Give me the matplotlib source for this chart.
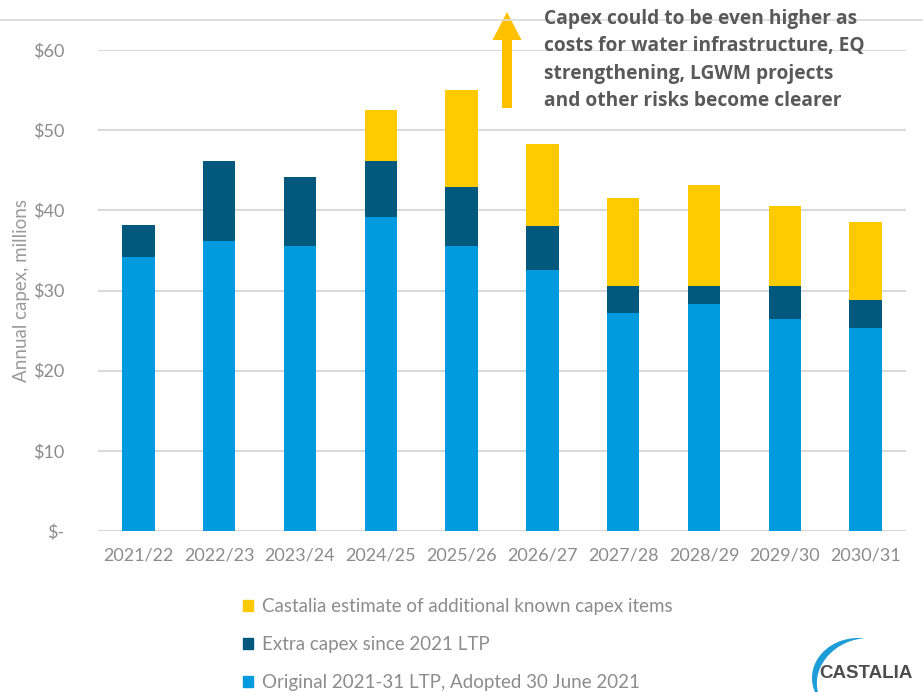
import numpy as np
import matplotlib.pyplot as plt
from matplotlib.patches import Patch, Polygon

years = ["2021/22", "2022/23", "2023/24", "2024/25", "2025/26",
         "2026/27", "2027/28", "2028/29", "2029/30", "2030/31"]
original_ltp = [34.2, 36.2, 35.5, 39.2, 35.6, 32.5, 27.2, 28.3, 26.5, 25.3]
extra_capex = [4.0, 10.0, 8.6, 7.0, 7.3, 5.5, 3.3, 2.3, 4.1, 3.5]
castalia_est = [0.0, 0.0, 0.0, 6.3, 12.1, 10.3, 11.1, 12.5, 9.9, 9.8]

legend_labels = ["Castalia estimate of additional known capex items",
                 "Extra capex since 2021 LTP",
                 "Original 2021-31 LTP, Adopted 30 June 2021"]
yticks = [0, 10, 20, 30, 40, 50, 60]
ytick_labels = ["$-", "$10", "$20", "$30", "$40", "$50", "$60"]
note = ("Capex could to be even higher as\n"
        "costs for water infrastructure, EQ\n"
        "strengthening, LGWM projects\n"
        "and other risks become clearer")

c_light = "#009ADE"
c_dark = "#00587C"
c_yellow = "#FFCA00"
c_text = "#8C8C8C"

plt.rcParams['font.family'] = ['Lato', 'DejaVu Sans']

fig = plt.figure(figsize=(9.23, 6.92), dpi=100)
W, H = 923, 692
ax = fig.add_axes([98 / W, 1 - 531 / H, (906 - 98) / W, (531 - 50) / H])

x = np.arange(len(years))
w = 0.4
orig = np.array(original_ltp)
extra = np.array(extra_capex)
est = np.array(castalia_est)
ax.bar(x, orig, w, color=c_light, zorder=3)
ax.bar(x, extra, w, bottom=orig, color=c_dark, zorder=3)
ax.bar(x, est, w, bottom=orig + extra, color=c_yellow, zorder=3)

ax.set_xlim(-0.5, len(years) - 0.5)
ax.set_ylim(0, 60)
ax.set_yticks(yticks)
ax.set_yticklabels(ytick_labels)
ax.set_xticks(x)
ax.set_xticklabels(years)
ax.tick_params(axis="both", length=0, labelsize=13, labelcolor=c_text)
ax.tick_params(axis="y", pad=24)
ax.tick_params(axis="x", pad=12)
ax.grid(axis="y", color="#D9D9D9", lw=1.5, zorder=0)
for s in ax.spines.values():
    s.set_visible(False)
ax.set_ylabel("Annual capex, millions", fontsize=13.5, color="#9A9A9A")
ax.yaxis.set_label_coords(-68 / 808, 0.5)

# thin rule across the top of the slide
fig.add_artist(plt.Line2D([0, 1], [1 - 20 / H, 1 - 20 / H],
                          transform=fig.transFigure, color="#D9D9D9", lw=1.2))


def px(pts):
    # pixel coords (origin top-left) -> figure fraction
    pts = np.asarray(pts, dtype=float)
    return np.c_[pts[:, 0] / W, 1 - pts[:, 1] / H]


# up arrow next to the note
ax_x, tip, neck, tail = 507, 12, 40, 108
arrow = [(ax_x, tip), (ax_x + 14.5, neck), (ax_x + 5, neck), (ax_x + 5, tail),
         (ax_x - 5, tail), (ax_x - 5, neck), (ax_x - 14.5, neck)]
fig.add_artist(Polygon(px(arrow), closed=True, transform=fig.transFigure,
                       color="#FFC000", lw=0))
fig.text(544 / W, 1 - 9 / H, note, fontsize=13.8, fontweight="bold",
         family=["Open Sans", "DejaVu Sans"], color="#595959",
         va="top", ha="left", linespacing=1.5)

handles = [Patch(color=c_yellow), Patch(color=c_dark), Patch(color=c_light)]
fig.legend(handles, legend_labels, loc="upper left",
           bbox_to_anchor=(243 / W, 1 - 598 / H), frameon=False,
           borderaxespad=0, borderpad=0,
           fontsize=13.5, labelcolor=c_text, handlelength=0.55,
           handleheight=0.55, handletextpad=0.45, labelspacing=1.13)

# logo: blue swoosh and wordmark
cx, cy, rx, ry = 858, 678, 46, 40
t = np.linspace(np.radians(82), np.radians(222), 80)
thick = 6.5 * np.sin(np.pi * (t - t[0]) / (t[-1] - t[0]))
outer = np.c_[cx + rx * np.cos(t), cy - ry * np.sin(t)]
inner = np.c_[cx + (rx - thick) * np.cos(t), cy - (ry - thick) * np.sin(t)]
fig.add_artist(Polygon(px(np.vstack([outer, inner[::-1]])), closed=True,
                       transform=fig.transFigure, color="#1E9CD8", lw=0))
fig.text(866 / W, 1 - 674 / H, "CASTALIA", fontsize=13.5, fontweight="bold",
         color="#4D4D4D", ha="center", va="center",
         family=["Liberation Sans Narrow", "Liberation Sans", "DejaVu Sans"])

fig.savefig("out.png", dpi=100)
